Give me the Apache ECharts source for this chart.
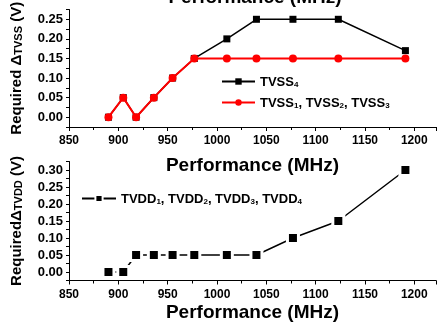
<!DOCTYPE html>
<html>
<head>
<meta charset="utf-8">
<script src="https://cdn.jsdelivr.net/npm/echarts@6/dist/echarts.min.js"></script>
<style>
html, body { margin: 0; padding: 0; background: #fff; }
#chart { width: 437px; height: 330px; }
</style>
</head>
<body>
<div id="chart"></div>
<script>
// frequencies (MHz)
var freq = [890, 905, 918, 936, 955, 977, 1010, 1040, 1077, 1123, 1191];
// required delta TVSS (V)
var tvss4 = [0, 0.05, 0, 0.05, 0.10, 0.15, 0.20, 0.25, 0.25, 0.25, 0.17];
var tvss123 = [0, 0.05, 0, 0.05, 0.10, 0.15, 0.15, 0.15, 0.15, 0.15, 0.15];
// required delta TVDD (V)
var tvdd = [0, 0, 0.05, 0.05, 0.05, 0.05, 0.05, 0.05, 0.10, 0.15, 0.30];

var font = 'Liberation Sans, Arial, sans-serif';

function pairs(ys) {
	return freq.map(function(f, i) {
		return [f, ys[i]];
	});
}

function yLabel(v) {
	var k = Math.round(v / 0.05);
	if(Math.abs(k * 0.05 - v) > 1e-6 || v < -1e-6) {
		return '';
	}
	return v.toFixed(2);
}

var rich = {
	t: { fontFamily: font, fontSize: 13, fontWeight: 'bold', color: '#000', verticalAlign: 'bottom', lineHeight: 15 },
	s: { fontFamily: font, fontSize: 8, fontWeight: 'bold', color: '#000', verticalAlign: 'bottom', lineHeight: 8, padding: [11, 0, 0, 0] }
};
var nameRich = {
	t: { fontFamily: font, fontSize: 15, fontWeight: 'bold', color: '#000', verticalAlign: 'bottom', lineHeight: 17 },
	s: { fontFamily: font, fontSize: 11, fontWeight: 'bold', color: '#000', verticalAlign: 'bottom', lineHeight: 11, padding: [13, 0, 0, 0] }
};

function xAxisOf(idx, gap) {
	return {
		type: 'value',
		gridIndex: idx,
		min: 850,
		max: 1222,
		interval: 50,
		name: 'Performance (MHz)',
		nameLocation: 'middle',
		nameGap: gap,
		nameTextStyle: { fontFamily: font, fontSize: 19, fontWeight: 'bold', color: '#000' },
		axisLine: { onZero: false, lineStyle: { color: '#000', width: 1 } },
		axisTick: { length: 4, lineStyle: { color: '#000' } },
		minorTick: { show: true, splitNumber: 2, length: 3, lineStyle: { color: '#000' } },
		splitLine: { show: false },
		axisLabel: {
			showMaxLabel: false,
			margin: 8,
			formatter: function(v) { return String(v); },
			fontFamily: font, fontSize: 12, fontWeight: 'bold', color: '#000'
		}
	};
}

function yAxisOf(idx, max, name) {
	return {
		type: 'value',
		gridIndex: idx,
		min: -0.025,
		max: max,
		interval: 0.025,
		name: name,
		nameLocation: 'middle',
		nameGap: 45,
		nameTextStyle: { rich: nameRich },
		axisLine: { onZero: false, lineStyle: { color: '#000', width: 1 } },
		axisTick: { length: 3, lineStyle: { color: '#000' } },
		splitLine: { show: false },
		axisLabel: { formatter: yLabel, margin: 6, fontFamily: font, fontSize: 13, fontWeight: 'bold', color: '#000' }
	};
}

var chart = echarts.init(document.getElementById('chart'));
var option = {
	backgroundColor: '#fff',
	animation: false,
	grid: [
		{ left: 69, right: 1, top: 9.5, height: 117.5, outerBoundsMode: 'none' },
		{ left: 69, right: 1, top: 161.5, height: 119, outerBoundsMode: 'none' }
	],
	xAxis: [xAxisOf(0, 29), xAxisOf(1, 23)],
	yAxis: [
		yAxisOf(0, 0.275, '{t|Required Δ}{s|TVSS}{t| (V)}'),
		yAxisOf(1, 0.325, '{t|RequiredΔ}{s|TVDD}{t| (V)}')
	],
	legend: [{
		data: ['TVSS4', 'TVSS123'],
		orient: 'vertical',
		left: 221,
		top: 70,
		padding: 0,
		itemWidth: 33,
		itemHeight: 8,
		itemGap: 2,
		formatter: function(n) {
			if(n === 'TVSS4') {
				return '{t|TVSS}{s|4}';
			}
			return '{t|TVSS}{s|1}{t|, TVSS}{s|2}{t|, TVSS}{s|3}';
		},
		textStyle: { rich: rich }
	}, {
		data: ['TVDD'],
		left: 81,
		top: 187,
		padding: 0,
		itemWidth: 34,
		itemHeight: 9,
		formatter: function() {
			return '{t|TVDD}{s|1}{t|, TVDD}{s|2}{t|, TVDD}{s|3}{t|, TVDD}{s|4}';
		},
		textStyle: { rich: rich }
	}],
	graphic: [{
		type: 'text',
		style: {
			x: 255, y: -2,
			text: 'Performance (MHz)',
			textAlign: 'center',
			textVerticalAlign: 'middle',
			font: 'bold 19px ' + font,
			fill: '#000'
		}
	}],
	series: [{
		name: 'TVSS4',
		type: 'line',
		xAxisIndex: 0,
		yAxisIndex: 0,
		data: pairs(tvss4),
		symbol: 'rect',
		symbolSize: 7,
		itemStyle: { color: '#000' },
		lineStyle: { color: '#000', width: 1.5 },
		z: 2
	}, {
		name: 'TVSS123',
		type: 'line',
		xAxisIndex: 0,
		yAxisIndex: 0,
		data: pairs(tvss123),
		symbol: 'circle',
		symbolSize: 8,
		itemStyle: { color: '#ff0000' },
		lineStyle: { color: '#ff0000', width: 2 },
		z: 3
	}, {
		name: 'TVDD',
		type: 'line',
		xAxisIndex: 1,
		yAxisIndex: 1,
		data: pairs(tvdd),
		symbol: 'rect',
		symbolSize: 11,
		itemStyle: { color: '#000', borderColor: '#fff', borderWidth: 3 },
		lineStyle: { color: '#000', width: 1.5 }
	}]
};
chart.setOption(option);
</script>
</body>
</html>
